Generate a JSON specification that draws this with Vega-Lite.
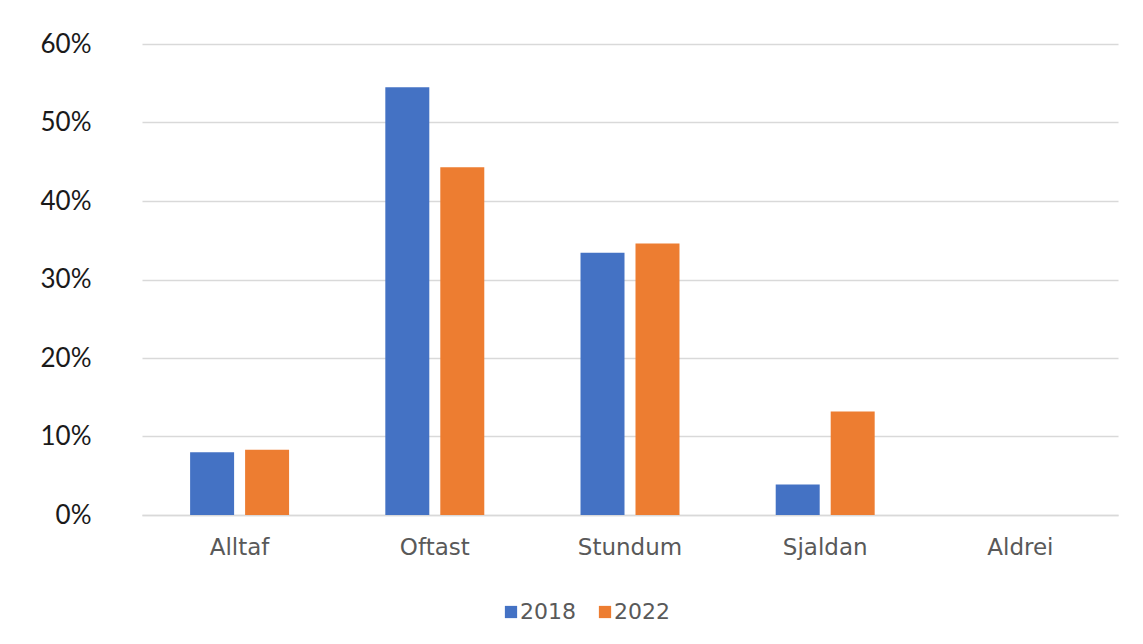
{
  "$schema": "https://vega.github.io/schema/vega-lite/v6.json",
  "width": 976,
  "height": 471,
  "autosize": {"type": "none"},
  "padding": {"left": 142, "top": 44, "right": 25, "bottom": 129},
  "background": "white",
  "data": {
    "values": [
      {"flokkur": "Alltaf", "ar": "2018", "hlutfall": 0.080},
      {"flokkur": "Alltaf", "ar": "2022", "hlutfall": 0.083},
      {"flokkur": "Oftast", "ar": "2018", "hlutfall": 0.545},
      {"flokkur": "Oftast", "ar": "2022", "hlutfall": 0.443},
      {"flokkur": "Stundum", "ar": "2018", "hlutfall": 0.334},
      {"flokkur": "Stundum", "ar": "2022", "hlutfall": 0.346},
      {"flokkur": "Sjaldan", "ar": "2018", "hlutfall": 0.039},
      {"flokkur": "Sjaldan", "ar": "2022", "hlutfall": 0.132},
      {"flokkur": "Aldrei", "ar": "2018", "hlutfall": 0},
      {"flokkur": "Aldrei", "ar": "2022", "hlutfall": 0}
    ]
  },
  "config": {
    "view": {"stroke": null},
    "font": "DejaVu Sans"
  },
  "mark": {"type": "bar"},
  "encoding": {
    "x": {
      "field": "flokkur",
      "type": "nominal",
      "sort": ["Alltaf", "Oftast", "Stundum", "Sjaldan", "Aldrei"],
      "scale": {"paddingInner": 0, "paddingOuter": 0},
      "axis": {
        "title": null,
        "labelAngle": 0,
        "labelFont": "DejaVu Sans",
        "labelFontSize": 23,
        "labelColor": "#595959",
        "labelPadding": 21,
        "ticks": false,
        "domain": true,
        "domainColor": "#d9d9d9",
        "domainWidth": 1.5
      }
    },
    "xOffset": {
      "field": "ar",
      "type": "nominal",
      "scale": {"paddingInner": 0.2, "paddingOuter": 0.875}
    },
    "y": {
      "field": "hlutfall",
      "type": "quantitative",
      "scale": {"domain": [0, 0.6]},
      "axis": {
        "title": null,
        "format": ".0%",
        "values": [0, 0.1, 0.2, 0.3, 0.4, 0.5, 0.6],
        "labelFont": "Lato",
        "labelFontSize": 26,
        "labelColor": "#1a1a1a",
        "labelPadding": 51,
        "ticks": false,
        "domain": false,
        "gridColor": "#d9d9d9",
        "gridWidth": 1.5
      }
    },
    "color": {
      "field": "ar",
      "type": "nominal",
      "scale": {"domain": ["2018", "2022"], "range": ["#4472C4", "#ED7D31"]},
      "legend": {
        "title": null,
        "orient": "none",
        "direction": "horizontal",
        "legendX": 358,
        "legendY": 557,
        "symbolType": "square",
        "symbolSize": 150,
        "symbolStrokeWidth": 0,
        "labelFont": "DejaVu Sans",
        "labelFontSize": 22,
        "labelColor": "#595959",
        "columnPadding": 18,
        "labelOffset": -2
      }
    }
  }
}
